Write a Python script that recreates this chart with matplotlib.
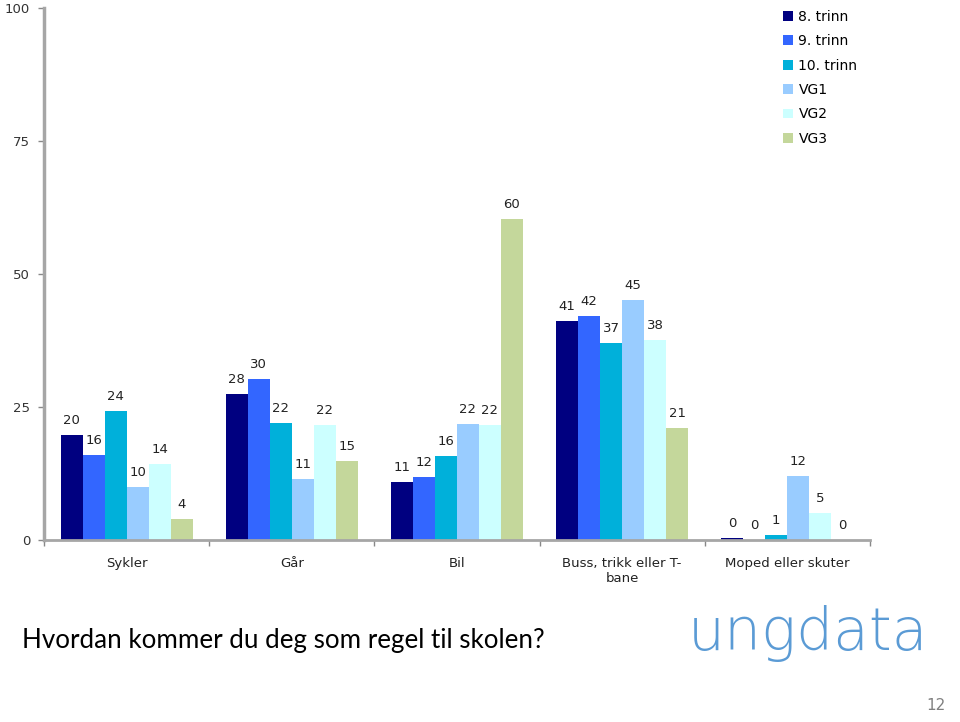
import numpy as np
import matplotlib
matplotlib.use("Agg")
import matplotlib.pyplot as plt

categories = ["Sykler", "Går", "Bil", "Buss, trikk eller T-\nbane", "Moped eller skuter"]
series = ["8. trinn", "9. trinn", "10. trinn", "VG1", "VG2", "VG3"]
values = {
    "8. trinn": [19.7, 27.5, 11.0, 41.2, 0.4],
    "9. trinn": [16.0, 30.2, 11.8, 42.2, 0.0],
    "10. trinn": [24.2, 22.0, 15.8, 37.0, 1.0],
    "VG1": [10.0, 11.4, 21.8, 45.2, 12.1],
    "VG2": [14.3, 21.6, 21.6, 37.6, 5.0],
    "VG3": [3.9, 14.9, 60.3, 21.0, 0.0],
}
colors = ["#000080", "#3366FF", "#00B0DA", "#99CCFF", "#CCFFFF", "#C4D79B"]

fig = plt.figure(figsize=(9.6, 7.22), dpi=100)
ax = fig.add_axes([0.046, 0.252, 0.86, 0.737])

x = np.arange(len(categories))
w = 0.8 / len(series)
for k, name in enumerate(series):
    pos = x + (k - 2.5) * w
    bars = ax.bar(pos, values[name], width=w, color=colors[k], label=name, linewidth=0)
    for b, v in zip(bars, values[name]):
        ax.text(b.get_x() + b.get_width() / 2, v + 1.5, f"{round(v):d}",
                ha="center", va="bottom", fontsize=9.5, color="#222222")

ax.set_xlim(-0.5, len(categories) - 0.5)
ax.set_ylim(0, 100)
ax.set_yticks([0, 25, 50, 75, 100])
ax.tick_params(axis="y", labelsize=9.5, labelcolor="#333333", length=4, width=1,
               pad=6, color="#888888")
ax.set_xticks(x)
ax.set_xticklabels(categories, fontsize=9.5, color="#222222")
ax.tick_params(axis="x", length=0, pad=12)
ax.set_xticks(np.arange(len(categories) + 1) - 0.5, minor=True)
ax.tick_params(axis="x", which="minor", length=4, color="#888888", width=1)

for s in ["top", "right"]:
    ax.spines[s].set_visible(False)
ax.spines["left"].set_color("#A6A6A6")
ax.spines["left"].set_linewidth(2.5)
ax.spines["bottom"].set_color("#A6A6A6")
ax.spines["bottom"].set_linewidth(2)

ax.legend(loc="upper left", bbox_to_anchor=(0.88, 1.02), frameon=False,
          fontsize=10, handlelength=0.7, handleheight=0.7, handletextpad=0.4,
          labelspacing=0.75)

fig.text(0.023, 0.113, "Hvordan kommer du deg som regel til skolen?",
         fontsize=18.7, family="Lato", color="black", va="center")
fig.text(0.716, 0.122, "ungdata", fontsize=42, family="DejaVu Sans",
         fontweight="ultralight", color="#5B9BD5", va="center")
fig.text(0.985, 0.013, "12", fontsize=11, color="#808080", ha="right", va="bottom")

fig.savefig("out.png", dpi=100)
